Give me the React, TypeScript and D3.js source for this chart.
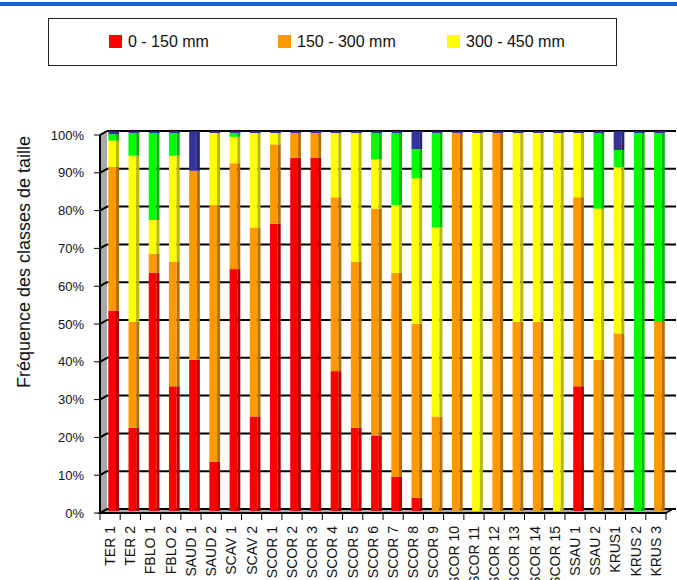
import React from "react";
import * as d3 from "d3";

const categories = ["TER 1","TER 2","FBLO 1","FBLO 2","SAUD 1","SAUD 2","SCAV 1","SCAV 2","SCOR 1","SCOR 2","SCOR 3","SCOR 4","SCOR 5","SCOR 6","SCOR 7","SCOR 8","SCOR 9","SCOR 10","SCOR 11","SCOR 12","SCOR 13","SCOR 14","SCOR 15","SSAU 1","SSAU 2","KRUS1","KRUS 2","KRUS 3"];

const class0_150 =   [53, 22, 63, 33, 40, 13, 64, 25, 76, 93.5, 93.5, 37, 22, 20, 9, 3.5, 0, 0, 0, 0, 0, 0, 0, 33, 0, 0, 0, 0];
const class150_300 = [38, 28, 5, 33, 50, 68, 28, 50, 21, 6.5, 6.5, 46, 44, 60, 54, 46, 25, 100, 0, 100, 50, 50, 0, 50, 40, 47, 0, 50];
const class300_450 = [7, 44, 9, 28, 0, 19, 7, 25, 3, 0, 0, 17, 34, 13, 18, 38.5, 50, 0, 100, 0, 50, 50, 100, 17, 40, 44, 0, 0];
const class450_600 = [1.7, 6, 23, 6, 0, 0, 1, 0, 0, 0, 0, 0, 0, 7, 19, 7.7, 25, 0, 0, 0, 0, 0, 0, 0, 20, 4.5, 100, 50];
const class600plus = [0.3, 0, 0, 0, 10, 0, 0, 0, 0, 0, 0, 0, 0, 0, 0, 4.3, 0, 0, 0, 0, 0, 0, 0, 0, 0, 4.5, 0, 0];

const seriesKeys = ["0 - 150 mm", "150 - 300 mm", "300 - 450 mm", "450 - 600 mm", "> 600 mm"];
const seriesValues = [class0_150, class150_300, class300_450, class450_600, class600plus];
const seriesColors = ["#FF0000", "#FF9900", "#FFFF00", "#00FF00", "#333399"];
const legendKeys = ["0 - 150 mm", "150 - 300 mm", "300 - 450 mm"];
const yTicks = [0, 10, 20, 30, 40, 50, 60, 70, 80, 90, 100];

const W = 677, H = 580;
const FONT = "'Liberation Sans', Arial, sans-serif";

export default function App() {
  const rows = categories.map((c, i) => {
    const r: any = { cat: c };
    seriesKeys.forEach((k, s) => (r[k] = seriesValues[s][i]));
    return r;
  });
  const stacked = d3.stack().keys(seriesKeys)(rows);

  const x0 = 100, x1 = 666;
  const dx = 7, dy = -4;
  const xBand = d3.scaleBand().domain(categories).range([x0, x1]).padding(0);
  const yFront = d3.scaleLinear().domain([0, 100]).range([513, 135]);
  const yBack = (v: number) => yFront(v) + dy;
  const yBar = d3.scaleLinear().domain([0, 100]).range([511, 133]);
  const color = d3.scaleOrdinal<string, string>().domain(seriesKeys).range(seriesColors);

  const barOff = 8.3, frontW = 7.7, sideW = 3;

  const legendX = d3.scalePoint().domain(legendKeys).range([109, 447]);

  return (
    <svg width={W} height={H} style={{ position: "absolute", left: 0, top: 0, background: "#fff" }} fontFamily={FONT}>
      <rect x={0} y={2} width={W} height={4} fill="#1a66cc" />

      <rect x={48.5} y={18.5} width={568} height={47} fill="#fff" stroke="#222" strokeWidth={1} />
      {legendKeys.map((k) => (
        <g key={k}>
          <rect x={legendX(k)} y={35} width={13} height={13} fill={color(k)} />
          <text x={(legendX(k) as number) + 19} y={47} fontSize={16} fill="#111">{k}</text>
        </g>
      ))}

      <polygon
        points={`${x0},${yFront(0)} ${x0},${yFront(100)} ${x0 + dx},${yBack(100)} ${x0 + dx},${yBack(0)}`}
        fill="#a9a9a9"
      />
      <polygon
        points={`${x0},${yFront(0)} ${x1},${yFront(0)} ${x1 + dx},${yBack(0)} ${x0 + dx},${yBack(0)}`}
        fill="#a9a9a9" stroke="#000" strokeWidth={1.5}
      />

      {yTicks.map((t) => (
        <g key={t}>
          <line x1={x0} y1={yFront(t)} x2={x0 + dx} y2={yBack(t)} stroke="#000" strokeWidth={2} />
          <line x1={x0 + dx} y1={yBack(t)} x2={x1 + dx + 3} y2={yBack(t)} stroke="#000" strokeWidth={2} />
        </g>
      ))}

      {stacked.map((layer) => (
        <g key={layer.key}>
          {layer.map((d, i) => {
            const h = yBar(d[0]) - yBar(d[1]);
            if (h <= 0) return null;
            const c = color(layer.key);
            const bx = (xBand(categories[i]) as number) + barOff;
            return (
              <g key={i}>
                <rect x={bx} y={yBar(d[1])} width={frontW} height={h} fill={c} />
                <rect x={bx + frontW} y={yBar(d[1])} width={sideW} height={h} fill={d3.color(c)!.darker(0.9).formatHex()} />
              </g>
            );
          })}
        </g>
      ))}
      {categories.map((c) => {
        const bx = (xBand(c) as number) + barOff;
        const yt = yBar(100);
        return (
          <polygon key={c}
            points={`${bx},${yt} ${bx + frontW + sideW},${yt} ${bx + frontW + sideW + 1},${yt - 1.8} ${bx + 1},${yt - 1.8}`}
            fill={seriesColors[4]} />
        );
      })}

      <line x1={x0} y1={yFront(0)} x2={x0} y2={yFront(100)} stroke="#000" strokeWidth={2} />
      {yTicks.map((t) => (
        <g key={t}>
          <line x1={94} y1={yFront(t)} x2={x0} y2={yFront(t)} stroke="#000" strokeWidth={1} />
          <text x={84} y={yFront(t)} dy="0.35em" textAnchor="end" fontSize={13} fill="#111">{t}%</text>
        </g>
      ))}
      <line x1={x0} y1={yFront(0)} x2={x1} y2={yFront(0)} stroke="#000" strokeWidth={2} />

      {d3.range(categories.length + 1).map((k) => {
        const xx = x0 + k * xBand.step();
        return <line key={k} x1={xx} y1={yFront(0)} x2={xx} y2={520} stroke="#000" strokeWidth={1} />;
      })}
      {categories.map((c) => {
        const cx = (xBand(c) as number) + xBand.bandwidth() / 2;
        return (
          <text key={c} transform={`translate(${cx},526) rotate(-90)`} dy="0.35em" textAnchor="end" fontSize={14} fill="#111">{c}</text>
        );
      })}

      <text transform={`translate(24,262) rotate(-90)`} dy="0.35em" textAnchor="middle" fontSize={18} fill="#111">Fréquence des classes de taille</text>
    </svg>
  );
}
